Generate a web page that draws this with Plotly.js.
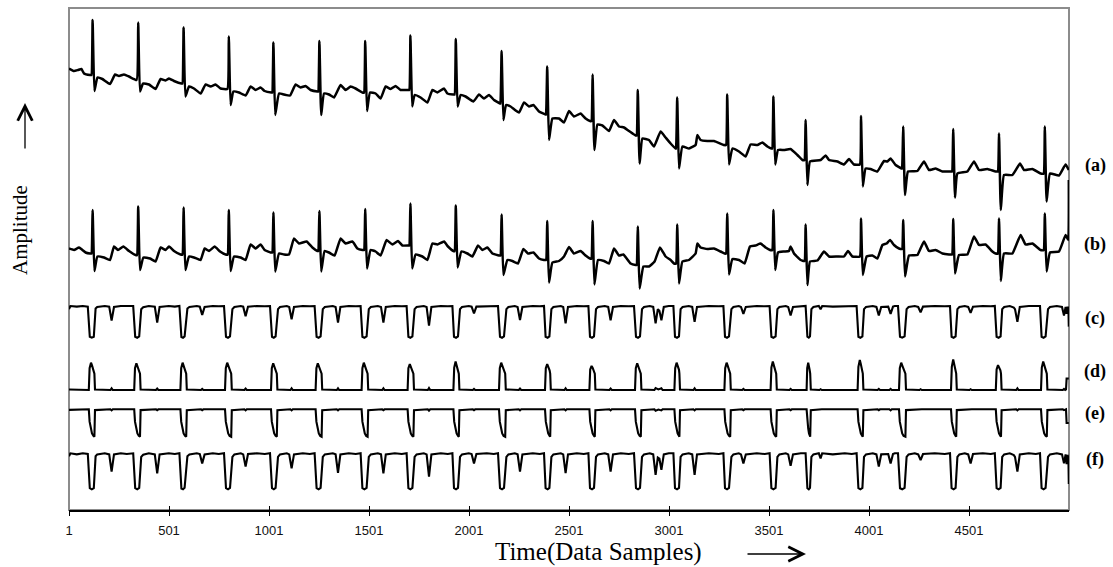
<!DOCTYPE html>
<html>
<head>
<meta charset="utf-8">
<script src="https://cdn.plot.ly/plotly-3.0.1.min.js"></script>
<style>html,body{margin:0;padding:0;background:#fff;}#chart{width:1113px;height:567px;}</style>
</head>
<body>
<div id="chart"></div>
<script>
// ---------- DATA (sample index, amplitude in arbitrary units) ----------
const tickVals = [1, 501, 1001, 1501, 2001, 2501, 3001, 3501, 4001, 4501];
const tickText = ["1", "501", "1001", "1501", "2001", "2501", "3001", "3501", "4001", "4501"];
const seriesLabels = ["(a)", "(b)", "(c)", "(d)", "(e)", "(f)"];

// (a) raw ECG with baseline wander
const aX = [1,26,46,63,76,106,113,
  119,128,143,168,206,231,251,276,301,339,
  347,356,371,401,434,459,484,501,526,563,568,
  574,583,601,626,659,684,709,734,759,793,
  800,809,823,851,884,909,934,959,979,1013,1017,
  1023,1032,1051,1076,1106,1134,1159,1184,1209,1243,1247,
  1253,1262,1276,1301,1326,1359,1384,1409,1434,1468,1476,
  1482,1491,1506,1534,1559,1584,1609,1634,1659,1693,1702,
  1708,1717,1729,1759,1793,1818,1843,1876,1893,1923,1929,
  1935,1944,1959,1984,2023,2051,2076,2101,2126,2156,2158,
  2164,2173,2186,2209,2251,2276,2301,2323,2351,2384,2386,
  2392,2401,2418,2451,2476,2501,2526,2559,2584,2606,2613,
  2619,2628,2643,2668,2701,2726,2751,2776,2801,2834,2839,
  2845,2854,2868,2901,2926,2959,2984,3009,3034,3036,
  3042,3051,3068,3101,3134,3143,3159,3193,3226,3276,3286,
  3292,3301,3318,3351,3384,3409,3443,3468,3493,3513,3517,
  3523,3532,3546,3576,3609,3643,3668,3678,
  3684,3693,3706,3759,3784,3801,3843,3876,3901,3926,3955,
  3961,3970,3984,4009,4043,4076,4093,4109,4134,4163,4166,
  4172,4181,4196,4243,4276,4301,4334,4368,4409,4416,
  4422,4431,4443,4493,4526,4551,4593,4634,4645,
  4651,4660,4676,4718,4756,4776,4818,4859,4874,
  4880,4889,4906,4951,4984,5000];
const aY = [3.63,3.58,3.60,3.62,3.53,3.50,3.50,
  4.60,3.18,3.45,3.42,3.32,3.51,3.48,3.51,3.47,3.40,
  4.55,3.17,3.33,3.31,3.22,3.42,3.39,3.43,3.38,3.33,3.33,
  4.45,3.07,3.27,3.23,3.13,3.31,3.27,3.31,3.23,3.22,
  4.27,2.90,3.17,3.15,3.09,3.27,3.20,3.25,3.18,3.15,3.15,
  4.15,2.70,3.13,3.11,3.09,3.31,3.25,3.28,3.20,3.17,3.17,
  4.18,2.70,3.13,3.11,3.05,3.30,3.20,3.27,3.23,3.15,3.15,
  4.18,2.78,3.15,3.13,3.03,3.27,3.22,3.28,3.20,3.20,3.20,
  4.29,2.87,3.10,3.05,2.95,3.20,3.15,3.23,3.13,3.11,3.11,
  4.22,2.87,3.10,3.07,2.97,3.11,3.03,3.10,3.00,2.93,2.93,
  3.98,2.60,2.90,2.87,2.75,2.95,2.87,2.90,2.77,2.71,2.71,
  3.67,2.20,2.63,2.63,2.55,2.78,2.67,2.73,2.63,2.58,2.58,
  3.51,2.00,2.51,2.49,2.38,2.60,2.47,2.45,2.38,2.29,2.29,
  3.20,1.73,2.23,2.20,2.07,2.37,2.25,2.13,2.03,2.03,
  3.05,1.63,2.07,2.03,2.10,2.30,2.20,2.18,2.18,2.10,2.10,
  3.11,1.71,2.03,1.97,1.87,2.11,2.10,2.15,2.07,2.03,2.03,
  3.07,1.71,2.00,2.00,2.02,1.90,1.80,1.80,
  2.60,1.30,1.77,1.80,1.89,1.80,1.77,1.71,1.82,1.71,1.71,
  2.68,1.27,1.63,1.62,1.57,1.78,1.77,1.83,1.70,1.63,1.63,
  2.47,1.10,1.57,1.58,1.77,1.60,1.63,1.57,1.57,1.57,
  2.42,1.05,1.53,1.57,1.77,1.60,1.62,1.57,1.57,
  2.33,0.80,1.50,1.50,1.73,1.60,1.62,1.53,1.53,
  2.47,0.97,1.53,1.49,1.71,1.60];

// (b) baseline-corrected ECG
const bX = [1,26,51,68,84,106,113,
  119,128,143,176,206,226,246,273,301,334,341,
  347,356,373,406,434,459,484,501,526,559,568,
  574,583,601,626,659,679,701,729,756,784,794,
  800,809,826,859,884,909,934,959,979,1009,1017,
  1023,1032,1051,1076,1101,1126,1151,1189,1218,1243,1247,
  1253,1262,1279,1301,1329,1359,1384,1418,1443,1468,1476,
  1482,1491,1509,1534,1559,1589,1618,1646,1668,1696,1702,
  1708,1717,1734,1768,1793,1818,1843,1876,1896,1923,1929,
  1935,1944,1963,1993,2018,2046,2068,2093,2118,2151,2158,
  2164,2173,2193,2218,2246,2273,2296,2323,2351,2376,2386,
  2392,2401,2418,2451,2476,2501,2526,2559,2584,2606,2613,
  2619,2628,2646,2676,2701,2726,2751,2773,2809,2834,2839,
  2845,2854,2873,2901,2929,2956,2984,3009,3026,3036,
  3042,3051,3068,3101,3134,3143,3159,3193,3226,3259,3279,3286,
  3292,3301,3318,3351,3379,3406,3434,3459,3484,3506,3517,
  3523,3532,3546,3576,3601,3609,3626,3659,3678,
  3684,3693,3706,3743,3776,3801,3843,3876,3896,3918,3955,
  3961,3970,3989,4018,4043,4068,4089,4106,4126,4151,4166,
  4172,4181,4201,4243,4276,4301,4334,4368,4401,4416,
  4422,4431,4451,4493,4526,4551,4584,4618,4634,4645,
  4651,4660,4676,4718,4759,4784,4818,4859,4874,
  4880,4889,4906,4951,4984,4997,5000];
const bY = [0.03,0.00,0.05,0.00,-0.05,-0.07,-0.07,
  0.80,-0.42,-0.13,-0.15,-0.20,0.07,0.00,0.07,-0.02,-0.10,-0.10,
  0.87,-0.40,-0.15,-0.17,-0.23,0.05,0.00,0.07,-0.02,-0.09,-0.09,
  0.85,-0.40,-0.13,-0.15,-0.20,0.03,-0.02,0.07,-0.03,-0.09,-0.09,
  0.80,-0.42,-0.13,-0.15,-0.20,0.11,0.03,0.11,0.00,-0.05,-0.05,
  0.75,-0.43,-0.07,-0.09,-0.09,0.23,0.13,0.17,0.05,-0.02,-0.02,
  0.78,-0.43,-0.02,-0.05,-0.11,0.23,0.13,0.17,0.03,0.00,0.00,
  0.82,-0.37,0.00,-0.03,-0.11,0.20,0.11,0.18,0.09,0.09,0.09,
  0.93,-0.37,-0.09,-0.13,-0.20,0.13,0.11,0.17,0.07,-0.02,-0.02,
  0.89,-0.35,-0.03,-0.07,-0.13,0.09,0.00,0.05,-0.07,-0.11,-0.11,
  0.71,-0.50,-0.20,-0.22,-0.27,0.02,-0.07,-0.05,-0.17,-0.20,-0.20,
  0.58,-0.65,-0.25,-0.22,-0.13,0.06,-0.07,-0.02,-0.11,-0.17,-0.17,
  0.58,-0.69,-0.20,-0.22,-0.27,0.03,-0.11,-0.09,-0.27,-0.30,-0.30,
  0.47,-0.77,-0.33,-0.33,-0.23,0.05,-0.13,-0.20,-0.27,-0.27,
  0.51,-0.67,-0.23,-0.20,-0.07,0.13,0.05,0.02,0.03,-0.03,-0.07,-0.07,
  0.73,-0.49,-0.18,-0.20,-0.27,0.07,0.09,0.13,0.05,0.00,0.00,
  0.80,-0.40,-0.05,-0.03,-0.02,0.07,-0.07,-0.20,-0.22,
  0.51,-0.70,-0.23,-0.21,-0.03,-0.13,-0.13,-0.13,-0.02,-0.13,-0.13,
  0.63,-0.50,-0.13,-0.11,-0.17,0.10,0.13,0.20,0.10,0.03,0.02,
  0.60,-0.53,-0.11,-0.10,0.17,-0.02,0.00,-0.07,-0.09,-0.09,
  0.62,-0.47,-0.10,-0.09,0.27,0.10,0.11,-0.03,-0.07,-0.07,
  0.63,-0.62,-0.07,-0.07,0.30,0.11,0.13,0.00,0.00,
  0.73,-0.43,-0.05,-0.03,0.30,0.20,1.40];

// (c) and (f): two-level signals sampled at the same instants
const cfX = [1,8,40,70,
  95,105,115,125,134,142,180,202,214,226,260,290,
  322,332,342,352,362,372,400,430,442,454,500,530,
  553,563,571,579,593,603,640,655,667,679,720,750,
  776,786,796,806,818,828,860,872,884,896,940,980,
  1006,1016,1025,1034,1046,1056,1090,1102,1114,1126,1170,1205,
  1229,1239,1249,1259,1270,1280,1320,1334,1346,1358,1400,1435,
  1459,1468,1478,1489,1500,1510,1545,1561,1573,1585,1630,1665,
  1689,1698,1708,1718,1729,1739,1775,1789,1801,1813,1860,1895,
  1918,1926,1936,1946,1956,1966,2000,2014,2026,2038,2090,2125,
  2146,2156,2166,2176,2188,2198,2230,2244,2256,2268,2320,2355,
  2376,2384,2394,2403,2413,2423,2460,2472,2484,2496,2540,2575,
  2598,2606,2616,2626,2636,2646,2680,2697,2709,2721,2760,2800,
  2826,2836,2846,2856,2866,2876,2905,2922,2934,2945,2953,2963,2975,3000,
  3023,3031,3041,3051,3059,3069,3100,3117,3129,3141,3200,3250,
  3273,3281,3291,3301,3313,3323,3350,3361,3373,3385,3440,3480,
  3504,3513,3523,3534,3543,3553,3585,3597,3609,3621,3660,
  3684,3693,3700,3706,3713,3723,3750,3759,3767,3820,3880,3915,
  3939,3948,3958,3968,3976,3986,4020,4038,4050,4062,4097,4109,4121,4130,
  4146,4156,4167,4179,4189,4199,4230,4247,4259,4271,4330,4380,
  4406,4414,4424,4434,4443,4453,4480,4497,4509,4521,4570,4610,
  4630,4639,4649,4659,4667,4677,4705,4725,4731,4743,4755,4800,4835,
  4856,4864,4874,4884,4896,4906,4940,4966,4976,4984,4989,4993,4998,5000];
const cY = [0.9,1.0,0.98,1.0,
  0.98,0.03,0.0,0.03,0.92,0.97,1.0,0.98,0.54,0.97,1.0,0.99,
  1.0,0.03,0.0,0.04,0.9,0.96,1.0,0.98,0.48,0.97,1.0,0.98,
  1.0,0.02,0.0,0.04,0.92,0.97,1.0,0.98,0.72,0.97,1.0,0.99,
  1.0,0.03,0.0,0.04,0.9,0.97,1.0,0.98,0.68,0.98,1.0,0.99,
  1.0,0.03,0.0,0.04,0.9,0.97,1.0,0.97,0.58,0.97,1.0,0.99,
  1.0,0.03,0.0,0.04,0.9,0.97,1.0,0.97,0.48,0.97,1.0,0.99,
  1.0,0.03,0.0,0.04,0.9,0.97,1.0,0.97,0.48,0.97,1.0,0.99,
  1.0,0.03,0.0,0.04,0.9,0.97,1.0,0.97,0.38,0.97,1.0,0.99,
  1.0,0.03,0.0,0.04,0.9,0.97,1.0,0.98,0.77,0.98,1.0,0.99,
  1.0,0.03,0.0,0.04,0.9,0.97,1.0,0.97,0.56,0.97,1.0,0.99,
  1.0,0.03,0.0,0.04,0.9,0.97,1.0,0.97,0.45,0.97,1.0,0.99,
  1.0,0.03,0.0,0.04,0.9,0.97,1.0,0.97,0.55,0.97,1.0,0.99,
  1.0,0.03,0.0,0.04,0.9,0.97,1.0,0.97,0.45,0.9,0.85,0.55,0.97,1.0,
  1.0,0.03,0.0,0.04,0.9,0.97,1.0,0.97,0.5,0.97,1.0,0.99,
  1.0,0.03,0.0,0.04,0.9,0.97,1.0,0.97,0.75,0.97,1.0,0.99,
  1.0,0.03,0.0,0.04,0.9,0.97,1.0,0.97,0.7,0.97,1.0,
  1.0,0.03,0.0,0.04,0.9,0.97,1.0,0.9,1.0,0.98,1.0,0.99,
  1.0,0.03,0.0,0.04,0.9,0.97,1.0,0.97,0.7,0.97,0.98,0.75,0.98,1.0,
  1.0,0.03,0.0,0.04,0.9,0.97,1.0,0.97,0.8,0.98,1.0,0.99,
  1.0,0.03,0.0,0.04,0.9,0.97,1.0,0.97,0.78,0.98,1.0,0.99,
  1.0,0.03,0.0,0.04,0.9,0.97,1.0,0.95,0.9,0.5,0.97,1.0,0.99,
  1.0,0.03,0.0,0.04,0.9,0.97,1.0,0.97,0.7,0.97,0.75,0.95,0.95,0.35];
const fY = [0.92,1.0,0.97,1.0,
  0.98,0.03,0.0,0.03,0.92,0.97,1.0,0.97,0.49,0.97,1.0,0.98,
  1.0,0.03,0.0,0.04,0.9,0.96,1.0,0.97,0.44,0.97,1.0,0.98,
  1.0,0.02,0.0,0.04,0.92,0.97,1.0,0.98,0.72,0.97,1.0,0.98,
  1.0,0.03,0.0,0.04,0.9,0.97,1.0,0.97,0.63,0.98,1.0,0.98,
  1.0,0.03,0.0,0.04,0.9,0.97,1.0,0.97,0.58,0.97,1.0,0.98,
  1.0,0.03,0.0,0.04,0.9,0.97,1.0,0.97,0.46,0.97,1.0,0.98,
  1.0,0.03,0.0,0.04,0.9,0.97,1.0,0.97,0.44,0.97,1.0,0.98,
  1.0,0.03,0.0,0.04,0.9,0.97,1.0,0.97,0.35,0.97,1.0,0.98,
  1.0,0.03,0.0,0.04,0.9,0.97,1.0,0.98,0.72,0.98,1.0,0.98,
  1.0,0.03,0.0,0.04,0.9,0.97,1.0,0.97,0.49,0.97,1.0,0.98,
  1.0,0.03,0.0,0.04,0.9,0.97,1.0,0.97,0.45,0.97,1.0,0.98,
  1.0,0.03,0.0,0.04,0.9,0.97,1.0,0.97,0.49,0.97,1.0,0.98,
  1.0,0.03,0.0,0.04,0.9,0.97,1.0,0.97,0.4,0.88,0.85,0.54,0.97,1.0,
  1.0,0.03,0.0,0.04,0.9,0.97,1.0,0.97,0.4,0.97,1.0,0.98,
  1.0,0.03,0.0,0.04,0.9,0.97,1.0,0.97,0.72,0.97,1.0,0.98,
  1.0,0.03,0.0,0.04,0.9,0.97,1.0,0.97,0.65,0.97,1.0,
  1.0,0.03,0.0,0.04,0.9,0.97,1.0,0.86,1.0,0.97,1.0,0.98,
  1.0,0.03,0.0,0.04,0.9,0.97,1.0,0.97,0.63,0.97,0.98,0.72,0.98,1.0,
  1.0,0.03,0.0,0.04,0.9,0.97,1.0,0.97,0.81,0.98,1.0,0.98,
  1.0,0.03,0.0,0.04,0.9,0.97,1.0,0.97,0.72,0.98,1.0,0.98,
  1.0,0.03,0.0,0.04,0.9,0.97,1.0,0.95,0.9,0.49,0.97,1.0,0.98,
  1.0,0.03,0.0,0.04,0.9,0.97,1.0,0.97,0.72,0.97,0.7,0.95,0.9,0.15];

// (d) and (e): pulse signals sampled at the same instants
const deX = [1,50,90,
  100,104,111,116,123,128,131,208,214,220,
  327,331,338,343,350,356,359,436,442,448,
  558,562,569,574,581,587,590,661,667,673,
  781,785,792,797,804,812,815,878,884,890,
  1011,1015,1022,1027,1034,1040,1043,1108,1114,1120,
  1234,1238,1245,1250,1257,1264,1267,1340,1346,1352,
  1464,1468,1475,1480,1487,1494,1497,1567,1573,1579,
  1694,1698,1705,1710,1717,1723,1726,1795,1801,1807,
  1923,1927,1934,1939,1946,1950,1953,2020,2026,2032,
  2151,2155,2162,2167,2174,2182,2185,2250,2256,2262,
  2381,2385,2392,2397,2404,2407,2410,2478,2484,2490,
  2603,2607,2614,2619,2626,2630,2633,2703,2709,2715,
  2831,2835,2842,2847,2854,2860,2863,2928,2934,2948,2963,2969,
  3028,3032,3039,3044,3051,3053,3056,3123,3129,3135,
  3278,3282,3289,3294,3301,3307,3310,3367,3373,3379,
  3509,3513,3520,3525,3532,3537,3540,3603,3609,3615,
  3689,3692,3697,3701,3704,3707,3710,3753,3759,3765,
  3944,3948,3955,3960,3967,3970,3973,4044,4050,4056,4103,4109,4115,
  4151,4155,4162,4167,4174,4183,4186,4253,4259,4265,
  4411,4415,4422,4427,4434,4437,4440,4503,4509,4515,
  4635,4639,4646,4651,4658,4661,4664,4737,4743,4749,
  4861,4865,4872,4877,4884,4890,4893,4970,4976,4982,
  4986,4989,5000];
const dY = [0.02,0.0,0.01,
  0,0.8,1.0,0.9,0.74,0.6,0.02,0,0.06,0,
  0,0.8,0.98,0.88,0.72,0.6,0.02,0,0.05,0,
  0,0.8,1.0,0.9,0.74,0.6,0.02,0,0.04,0,
  0,0.8,1.0,0.9,0.74,0.6,0.02,0,0.05,0,
  0,0.8,0.98,0.88,0.72,0.6,0.02,0,0.06,0,
  0,0.8,0.98,0.88,0.72,0.6,0.02,0,0.06,0,
  0,0.8,1.0,0.9,0.74,0.6,0.02,0,0.06,0,
  0,0.8,0.95,0.86,0.72,0.6,0.02,0,0.07,0,
  0,0.82,1.04,0.92,0.75,0.6,0.02,0,0.04,0,
  0,0.8,1.0,0.9,0.74,0.6,0.02,0,0.05,0,
  0,0.8,0.95,0.86,0.72,0.6,0.02,0,0.06,0,
  0,0.75,0.88,0.82,0.7,0.6,0.02,0,0.05,0,
  0,0.8,0.98,0.88,0.72,0.6,0.02,0,0.07,0.02,0.06,0,
  0,0.8,1.0,0.9,0.74,0.6,0.02,0,0.06,0,
  0,0.8,1.0,0.9,0.74,0.6,0.02,0,0.04,0,
  0,0.82,1.04,0.92,0.75,0.6,0.02,0,0.04,0,
  0,0.8,1.0,0.9,0.74,0.6,0.02,0,0.03,0,
  0,0.85,1.1,0.95,0.76,0.6,0.02,0,0.04,0,0,0.04,0,
  0,0.8,1.0,0.9,0.74,0.6,0.02,0,0.03,0,
  0,0.85,1.12,0.95,0.76,0.6,0.02,0,0.03,0,
  0,0.75,0.91,0.84,0.72,0.6,0.02,0,0.06,0,
  0,0.82,1.04,0.92,0.75,0.6,0.02,0,0.04,0,
  0.02,0.42,0.42];
const eY = [0.98,1.0,0.99,
  1.0,0.55,0.3,0.12,0.03,0.0,0.97,1.0,0.96,1.0,
  1.0,0.55,0.3,0.12,0.03,0.0,0.97,1.0,0.97,1.0,
  1.0,0.55,0.3,0.12,0.03,0.0,0.97,1.0,0.97,1.0,
  1.0,0.55,0.3,0.12,0.03,0.0,0.97,1.0,0.96,1.0,
  1.0,0.55,0.3,0.12,0.03,0.0,0.97,1.0,0.96,1.0,
  1.0,0.55,0.3,0.12,0.03,0.0,0.97,1.0,0.96,1.0,
  1.0,0.55,0.3,0.12,0.03,0.0,0.97,1.0,0.97,1.0,
  1.0,0.55,0.3,0.12,0.03,0.0,0.97,1.0,0.95,1.0,
  1.0,0.55,0.3,0.12,0.03,0.0,0.97,1.0,0.97,1.0,
  1.0,0.55,0.3,0.12,0.03,0.0,0.97,1.0,0.96,1.0,
  1.0,0.55,0.3,0.12,0.03,0.0,0.97,1.0,0.96,1.0,
  1.0,0.55,0.3,0.12,0.03,0.0,0.97,1.0,0.96,1.0,
  1.0,0.55,0.3,0.12,0.03,0.0,0.97,1.0,0.95,0.99,0.96,1.0,
  1.0,0.55,0.3,0.12,0.03,0.0,0.97,1.0,0.96,1.0,
  1.0,0.55,0.3,0.12,0.03,0.0,0.97,1.0,0.97,1.0,
  1.0,0.55,0.3,0.12,0.03,0.0,0.97,1.0,0.97,1.0,
  1.0,0.55,0.3,0.12,0.03,0.0,0.97,1.0,0.98,1.0,
  1.0,0.55,0.3,0.12,0.03,0.0,0.97,1.0,0.97,1.0,1.0,0.96,1.0,
  1.0,0.55,0.3,0.12,0.03,0.0,0.97,1.0,0.98,1.0,
  1.0,0.55,0.3,0.12,0.03,0.0,0.97,1.0,0.98,1.0,
  1.0,0.55,0.3,0.12,0.03,0.0,0.97,1.0,0.96,1.0,
  1.0,0.55,0.3,0.12,0.03,0.0,0.97,1.0,0.97,1.0,
  1.0,0.5,0.5];

// ---------- LAYOUT (pixel geometry of the figure) ----------
const W = 1113, H = 567;
const PL = 69, PR = 1069, PT = 8, PB = 510;
const px2x = p => (p - PL) / (PR - PL);
const px2y = p => (PB - p) / (PB - PT);
// vertical placement of each amplitude axis: pixel row of value 0, pixels per unit
const placement = {
  yaxis:  {base: 250,   k: 50},
  yaxis2: {base: 337.7, k: 31.7},
  yaxis3: {base: 390,   k: 27.3},
  yaxis4: {base: 436.7, k: 27.4},
  yaxis5: {base: 489.3, k: 36}
};
const labelRows = [165, 244, 318, 371, 413, 459];

const ink = '#000000';
const serif = 'Liberation Serif, "Times New Roman", serif';
const sans = 'Liberation Sans, Arial, sans-serif';

const lineA = {color: ink, width: 2.5, shape: 'spline', smoothing: 0.35};
const lineP = {color: ink, width: 2.1};
const traces = [
  {x: aX, y: aY, yaxis: 'y',  type: 'scatter', mode: 'lines', line: lineA, name: seriesLabels[0]},
  {x: bX, y: bY, yaxis: 'y',  type: 'scatter', mode: 'lines', line: lineA, name: seriesLabels[1]},
  {x: cfX, y: cY, yaxis: 'y2', type: 'scatter', mode: 'lines', line: lineP, name: seriesLabels[2]},
  {x: deX, y: dY, yaxis: 'y3', type: 'scatter', mode: 'lines', line: lineP, name: seriesLabels[3]},
  {x: deX, y: eY, yaxis: 'y4', type: 'scatter', mode: 'lines', line: lineP, name: seriesLabels[4]},
  {x: cfX, y: fY, yaxis: 'y5', type: 'scatter', mode: 'lines', line: lineP, name: seriesLabels[5]},
  {x: [], y: [], xaxis: 'x2', yaxis: 'y', type: 'scatter', mode: 'lines', showlegend: false, hoverinfo: 'skip'}
];

const layout = {
  width: W, height: H,
  margin: {l: PL, r: W - PR, t: PT, b: H - PB, pad: 0},
  paper_bgcolor: '#ffffff', plot_bgcolor: '#ffffff',
  showlegend: false, hovermode: false,
  xaxis: {
    range: [1, 5001], tickmode: 'array', tickvals: tickVals, ticktext: tickText,
    ticks: 'outside', ticklen: 4, tickwidth: 1, tickcolor: ink,
    showline: true, linecolor: ink, linewidth: 1.5,
    showgrid: false, zeroline: false, ticklabelstandoff: 4,
    tickfont: {family: sans, size: 13, color: '#111'}, fixedrange: true
  },
  xaxis2: {
    overlaying: 'x', anchor: 'y', side: 'bottom', range: [1, 5001],
    tickmode: 'array', tickvals: tickVals, ticks: 'inside', ticklen: 4, tickwidth: 1, tickcolor: ink,
    showticklabels: false, showline: false, showgrid: false, zeroline: false, fixedrange: true
  },
  shapes: [{type: 'rect', xref: 'paper', yref: 'paper', x0: 0, x1: 1, y0: 0, y1: 1,
            line: {color: '#8c8c8c', width: 2}, layer: 'below'}],
  annotations: []
};
Object.keys(placement).forEach((name, i) => {
  const p = placement[name];
  layout[name] = {range: [(p.base - PB) / p.k, (p.base - PT) / p.k], visible: false, fixedrange: true};
  if (i > 0) layout[name].overlaying = 'y';
});

// axis titles and arrows
layout.annotations.push({text: 'Time(Data Samples)', xref: 'paper', yref: 'paper',
  x: px2x(598), y: px2y(552), xanchor: 'center', yanchor: 'middle', showarrow: false,
  font: {family: serif, size: 25, color: ink}});
layout.annotations.push({text: 'Amplitude', xref: 'paper', yref: 'paper', textangle: -90,
  x: px2x(20), y: px2y(230), xanchor: 'center', yanchor: 'middle', showarrow: false,
  font: {family: serif, size: 21, color: ink}});
layout.annotations.push({text: '', xref: 'paper', yref: 'paper', x: px2x(806), y: px2y(554),
  ax: -60, ay: 0, showarrow: true, arrowhead: 5, arrowsize: 2.2, arrowwidth: 1.3, arrowcolor: ink});
layout.annotations.push({text: '', xref: 'paper', yref: 'paper', x: px2x(25), y: px2y(103),
  ax: 0, ay: 47, showarrow: true, arrowhead: 5, arrowsize: 2.2, arrowwidth: 1.3, arrowcolor: ink});
seriesLabels.forEach((lab, i) => {
  layout.annotations.push({text: '<b>' + lab + '</b>', xref: 'paper', yref: 'paper',
    x: px2x(1095), y: px2y(labelRows[i]), xanchor: 'center', yanchor: 'middle', showarrow: false,
    font: {family: serif, size: 18, color: ink}});
});

Plotly.newPlot('chart', traces, layout, {staticPlot: true, displayModeBar: false});
</script>
</body>
</html>
